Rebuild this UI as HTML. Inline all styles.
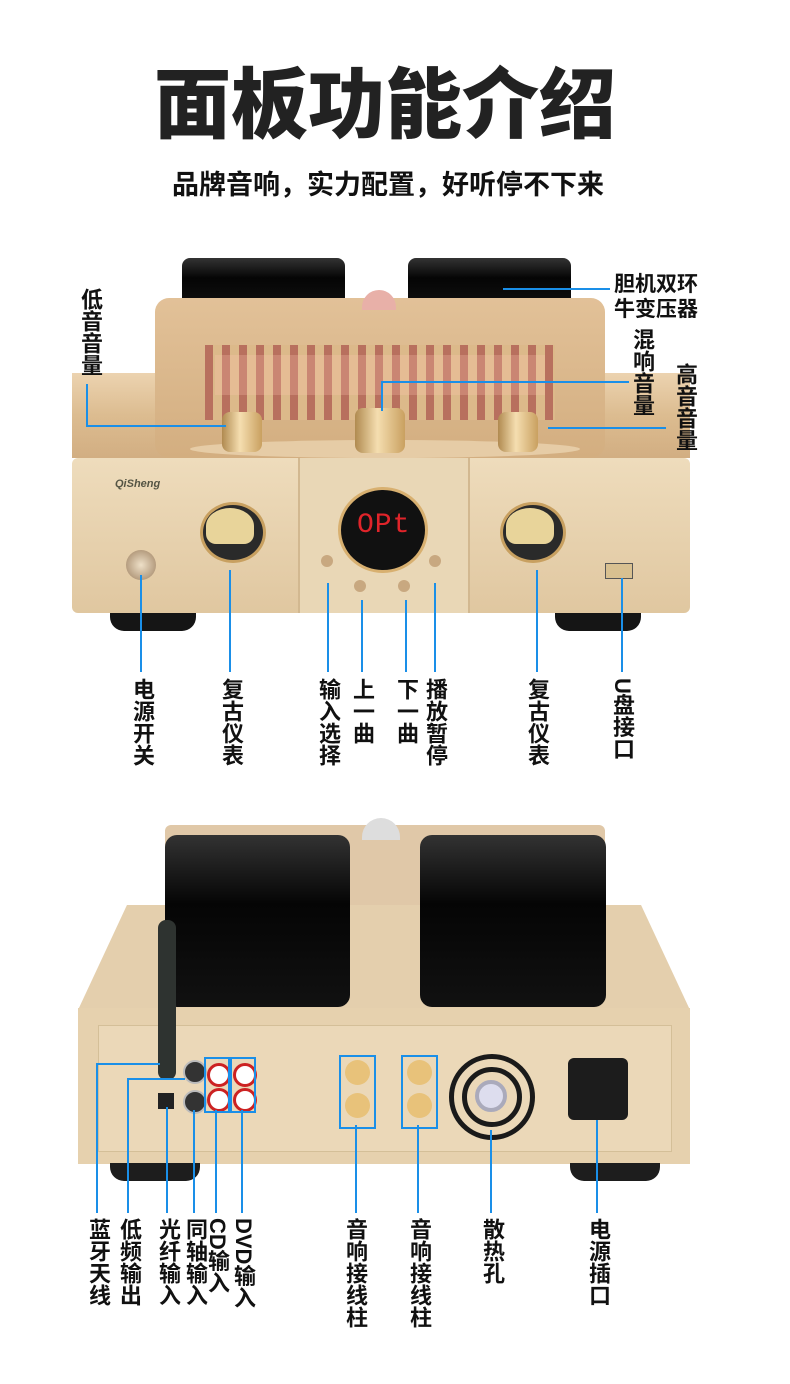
<!DOCTYPE html>
<html><head><meta charset="utf-8"><style>
body{margin:0;background:#fff;}
#c{position:relative;width:790px;height:1384px;overflow:hidden;background:#fff;font-family:"Liberation Sans","Noto Sans CJK SC",sans-serif;}
.a{position:absolute;}
.t{position:absolute;font-weight:700;color:#111;font-size:22px;line-height:26px;writing-mode:vertical-rl;font-family:"Liberation Sans","Noto Sans CJK SC",sans-serif;}
.h{position:absolute;font-weight:700;color:#111;font-size:21px;line-height:25px;}
.v{position:absolute;width:2px;background:#1a8fe8;}
.l{position:absolute;height:2px;background:#1a8fe8;}
.gold{background:linear-gradient(180deg,#ecd3b0,#dcbc90 50%,#d2ae82);}
.blk{background:linear-gradient(180deg,#333,#050505 40%,#111);}
.knob{position:absolute;border-radius:8px;background:linear-gradient(90deg,#b08a50,#f5deb0 45%,#c9a060);}
.bx{position:absolute;border:2px solid #1a8fe8;}
</style></head><body><div id="c">
<div class="a" style="left:150px;top:58px;width:470px;text-align:center;font-size:77px;font-weight:900;color:#222;line-height:96px;">面板功能介绍</div>
<div class="a" style="left:140px;top:168px;width:496px;text-align:center;font-size:27px;font-weight:700;color:#111;line-height:34px;">品牌音响，实力配置，好听停不下来</div>

<!-- top amp -->
<div class="a blk" style="left:182px;top:258px;width:163px;height:50px;border-radius:8px 8px 0 0;"></div>
<div class="a blk" style="left:408px;top:258px;width:163px;height:50px;border-radius:8px 8px 0 0;"></div>
<div class="a gold" style="left:72px;top:373px;width:618px;height:85px;"></div>
<div class="a" style="left:155px;top:298px;width:450px;height:160px;border-radius:14px;background:linear-gradient(180deg,#e2c198,#d3ae80);"></div>
<div class="a" style="left:205px;top:345px;width:350px;height:75px;background:repeating-linear-gradient(90deg,#b8705e 0 8px,#dcb98a 8px 17px);"></div>
<div class="a" style="left:215px;top:355px;width:330px;height:40px;background:rgba(255,200,180,0.25);"></div>
<div class="a" style="left:362px;top:290px;width:34px;height:20px;border-radius:17px 17px 0 0;background:#e8b0a8;"></div>
<div class="a" style="left:190px;top:440px;width:390px;height:18px;border-radius:50%;background:#e6cca6;"></div>
<div class="knob" style="left:222px;top:412px;width:40px;height:40px;"></div>
<div class="knob" style="left:355px;top:408px;width:50px;height:45px;"></div>
<div class="knob" style="left:498px;top:412px;width:40px;height:40px;"></div>
<div class="a" style="left:72px;top:458px;width:618px;height:155px;border-radius:6px;background:linear-gradient(180deg,#eedcbc,#e0c7a0);"></div>
<div class="a" style="left:298px;top:458px;width:168px;height:155px;background:#e9d7b6;border-left:2px solid #d2b890;border-right:2px solid #d2b890;"></div>
<div class="a" style="left:115px;top:478px;font-size:11px;font-weight:700;font-style:italic;color:#554;">QiSheng</div>
<div class="a" style="left:200px;top:502px;width:60px;height:55px;border-radius:50%;background:#2a2a2a;border:3px solid #c8a060;"></div>
<div class="a" style="left:206px;top:508px;width:48px;height:36px;border-radius:50% 50% 10px 10px;background:#e8d49a;"></div>
<div class="a" style="left:500px;top:502px;width:60px;height:55px;border-radius:50%;background:#2a2a2a;border:3px solid #c8a060;"></div>
<div class="a" style="left:506px;top:508px;width:48px;height:36px;border-radius:50% 50% 10px 10px;background:#e8d49a;"></div>
<div class="a" style="left:338px;top:487px;width:84px;height:80px;border-radius:50%;background:#111;border:3px solid #d8b070;"></div>
<div class="a" style="left:357px;top:510px;font-family:'Liberation Mono',monospace;font-size:28px;color:#e0242a;letter-spacing:1px;">OPt</div>
<div class="a" style="left:126px;top:550px;width:30px;height:30px;border-radius:50%;background:radial-gradient(#eee0c8,#9d8060);"></div>
<div class="a" style="left:321px;top:555px;width:12px;height:12px;border-radius:50%;background:#c8a880;"></div>
<div class="a" style="left:354px;top:580px;width:12px;height:12px;border-radius:50%;background:#c8a880;"></div>
<div class="a" style="left:398px;top:580px;width:12px;height:12px;border-radius:50%;background:#c8a880;"></div>
<div class="a" style="left:429px;top:555px;width:12px;height:12px;border-radius:50%;background:#c8a880;"></div>
<div class="a" style="left:605px;top:563px;width:26px;height:14px;background:#d8c090;border:1px solid #555;"></div>
<div class="a" style="left:110px;top:613px;width:86px;height:18px;border-radius:0 0 14px 14px;background:#151515;"></div>
<div class="a" style="left:555px;top:613px;width:86px;height:18px;border-radius:0 0 14px 14px;background:#151515;"></div>

<!-- top labels -->
<div class="t" style="left:77px;top:288px;">低音音量</div>
<div class="v" style="left:86px;top:384px;height:43px;"></div><div class="l" style="left:86px;top:425px;width:140px;"></div>
<div class="h" style="left:614px;top:272px;">胆机双环<br>牛变压器</div>
<div class="l" style="left:503px;top:288px;width:107px;"></div>
<div class="t" style="left:629px;top:328px;">混响音量</div>
<div class="l" style="left:381px;top:381px;width:248px;"></div><div class="v" style="left:381px;top:381px;height:30px;"></div>
<div class="t" style="left:672px;top:363px;">高音音量</div>
<div class="l" style="left:548px;top:427px;width:118px;"></div>

<div class="v" style="left:140px;top:575px;height:97px;"></div><div class="t" style="left:129px;top:678px;">电源开关</div>
<div class="v" style="left:229px;top:570px;height:102px;"></div><div class="t" style="left:218px;top:678px;">复古仪表</div>
<div class="v" style="left:327px;top:583px;height:89px;"></div><div class="t" style="left:315px;top:678px;">输入选择</div>
<div class="v" style="left:361px;top:600px;height:72px;"></div><div class="t" style="left:349px;top:678px;">上一曲</div>
<div class="v" style="left:405px;top:600px;height:72px;"></div><div class="t" style="left:393px;top:678px;">下一曲</div>
<div class="v" style="left:434px;top:583px;height:89px;"></div><div class="t" style="left:422px;top:678px;">播放暂停</div>
<div class="v" style="left:536px;top:570px;height:102px;"></div><div class="t" style="left:524px;top:678px;">复古仪表</div>
<div class="v" style="left:621px;top:578px;height:94px;"></div><div class="t" style="left:609px;top:678px;">U盘接口</div>

<!-- bottom amp -->
<div class="a" style="left:165px;top:825px;width:440px;height:180px;background:#e0c8a8;border-radius:6px 6px 0 0;"></div>
<div class="a" style="left:362px;top:818px;width:38px;height:22px;border-radius:19px 19px 0 0;background:#ddd;"></div>
<div class="a" style="left:78px;top:905px;width:612px;height:105px;background:#e4cfad;clip-path:polygon(8% 0,92% 0,100% 100%,0 100%);"></div>
<div class="a blk" style="left:165px;top:835px;width:185px;height:172px;border-radius:12px;"></div>
<div class="a blk" style="left:420px;top:835px;width:186px;height:172px;border-radius:12px;"></div>
<div class="a" style="left:78px;top:1008px;width:612px;height:156px;background:#e6d1ae;"></div>
<div class="a" style="left:98px;top:1025px;width:572px;height:125px;background:#ebd8b8;border:1px solid #d4bf98;"></div>
<div class="a" style="left:158px;top:920px;width:18px;height:160px;border-radius:8px;background:#2e3330;"></div>
<div class="a" style="left:183px;top:1060px;width:20px;height:20px;border-radius:50%;background:#333;border:2px solid #bbb;"></div>
<div class="a" style="left:183px;top:1090px;width:20px;height:20px;border-radius:50%;background:#333;border:2px solid #bbb;"></div>
<div class="a" style="left:207px;top:1063px;width:18px;height:18px;border-radius:50%;background:#fff;border:3px solid #c22;"></div>
<div class="a" style="left:207px;top:1088px;width:18px;height:18px;border-radius:50%;background:#fff;border:3px solid #c22;"></div>
<div class="a" style="left:233px;top:1063px;width:18px;height:18px;border-radius:50%;background:#fff;border:3px solid #c22;"></div>
<div class="a" style="left:233px;top:1088px;width:18px;height:18px;border-radius:50%;background:#fff;border:3px solid #c22;"></div>
<div class="bx" style="left:204px;top:1057px;width:22px;height:52px;"></div>
<div class="bx" style="left:230px;top:1057px;width:22px;height:52px;"></div>
<div class="a" style="left:158px;top:1093px;width:16px;height:16px;background:#222;"></div>
<div class="a" style="left:345px;top:1060px;width:25px;height:25px;border-radius:50%;background:#e8c27a;"></div>
<div class="a" style="left:345px;top:1093px;width:25px;height:25px;border-radius:50%;background:#e8c27a;"></div>
<div class="a" style="left:407px;top:1060px;width:25px;height:25px;border-radius:50%;background:#e8c27a;"></div>
<div class="a" style="left:407px;top:1093px;width:25px;height:25px;border-radius:50%;background:#e8c27a;"></div>
<div class="bx" style="left:339px;top:1055px;width:33px;height:70px;"></div>
<div class="bx" style="left:401px;top:1055px;width:33px;height:70px;"></div>
<div class="a" style="left:449px;top:1054px;width:76px;height:76px;border-radius:50%;border:5px solid #1a1a1a;"></div>
<div class="a" style="left:462px;top:1067px;width:50px;height:50px;border-radius:50%;border:5px solid #1a1a1a;"></div>
<div class="a" style="left:475px;top:1080px;width:24px;height:24px;border-radius:50%;border:4px solid #aab;background:#dde;"></div>
<div class="a" style="left:568px;top:1058px;width:60px;height:62px;background:#1c1c1c;border-radius:6px;"></div>
<div class="a" style="left:110px;top:1163px;width:90px;height:18px;border-radius:0 0 14px 14px;background:#1d1d1d;"></div>
<div class="a" style="left:570px;top:1163px;width:90px;height:18px;border-radius:0 0 14px 14px;background:#1d1d1d;"></div>

<!-- bottom labels -->
<div class="l" style="left:96px;top:1063px;width:64px;"></div><div class="v" style="left:96px;top:1063px;height:150px;"></div><div class="t" style="left:85px;top:1218px;">蓝牙天线</div>
<div class="l" style="left:127px;top:1078px;width:58px;"></div><div class="v" style="left:127px;top:1078px;height:135px;"></div><div class="t" style="left:116px;top:1218px;">低频输出</div>
<div class="v" style="left:166px;top:1107px;height:106px;"></div><div class="t" style="left:155px;top:1218px;">光纤输入</div>
<div class="v" style="left:193px;top:1110px;height:103px;"></div><div class="t" style="left:182px;top:1218px;">同轴输入</div>
<div class="v" style="left:215px;top:1110px;height:103px;"></div><div class="t" style="left:204px;top:1218px;">CD输入</div>
<div class="v" style="left:241px;top:1110px;height:103px;"></div><div class="t" style="left:230px;top:1218px;">DVD输入</div>
<div class="v" style="left:355px;top:1125px;height:88px;"></div><div class="t" style="left:342px;top:1218px;">音响接线柱</div>
<div class="v" style="left:417px;top:1125px;height:88px;"></div><div class="t" style="left:406px;top:1218px;">音响接线柱</div>
<div class="v" style="left:490px;top:1130px;height:83px;"></div><div class="t" style="left:479px;top:1218px;">散热孔</div>
<div class="v" style="left:596px;top:1120px;height:93px;"></div><div class="t" style="left:585px;top:1218px;">电源插口</div>
</div></body></html>
